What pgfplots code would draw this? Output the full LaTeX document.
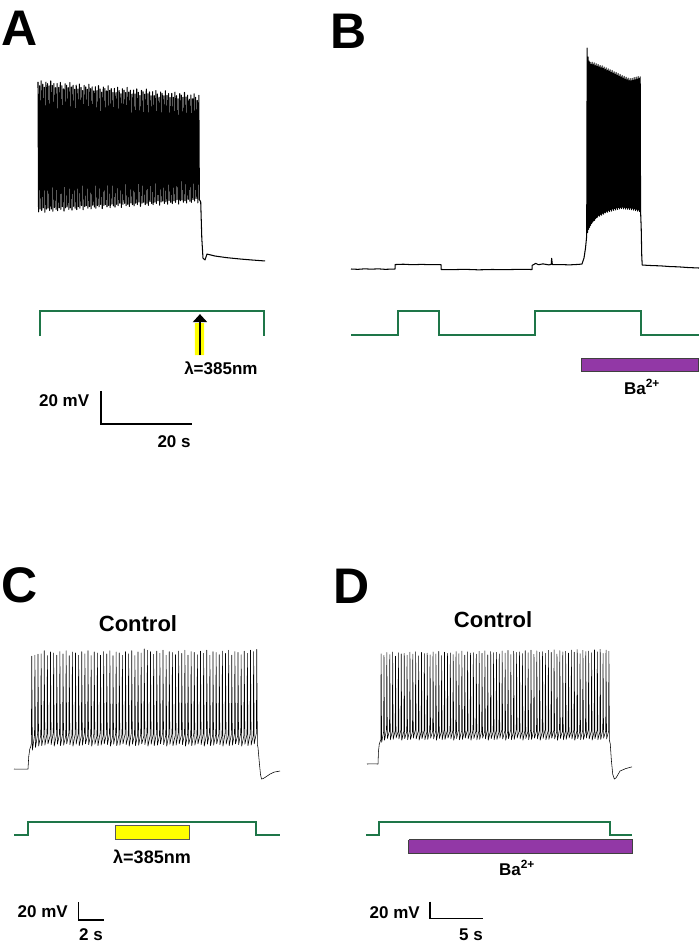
\documentclass[border=0pt]{standalone}
\usepackage{fontspec}
\setmainfont{Liberation Sans}
\usepackage{pgfplots}
\pgfplotsset{compat=1.18}
\usetikzlibrary{arrows.meta}
\definecolor{stimgreen}{RGB}{30,118,72}
\definecolor{bapurple}{RGB}{146,56,166}
\definecolor{yel}{RGB}{255,255,0}
\pgfplotsset{
  panel/.style={hide axis, clip=false, anchor=south west},
  trace/.style={black, mark=none, line width=0.6pt, line join=round},
  stim/.style={stimgreen, mark=none, line width=1.8pt},
  sbar/.style={black, mark=none, line width=1.5pt},
}
\newcommand{\lab}[1]{\fontsize{#1}{#1}\selectfont\bfseries}
\begin{document}
\begin{tikzpicture}
\path[use as bounding box] (0,0) rectangle (700pt,-948pt);
\node[font=\lab{50}] at (20pt,-28pt) {A};
\node[font=\lab{50}] at (349pt,-31pt) {B};
\node[font=\lab{50}] at (20pt,-585pt) {C};
\node[font=\lab{50}] at (352pt,-586pt) {D};

% ---------------- Panel A ----------------
\begin{axis}[panel, x=4.55pt, y=1.65pt, xmin=0, xmax=50, ymin=-200, ymax=50, at={(38pt,-472.5pt)}]
\addplot[trace, line width=1.05pt] coordinates {
(0,36.8) (0.12,-42.0) (0.35,34.4) (0.47,-40.3) (0.70,37.4) (0.82,-41.2) (1.05,35.4) (1.17,-39.6)
(1.40,33.5) (1.52,-42.3) (1.75,36.6) (1.87,-40.3) (2.10,35.7) (2.22,-39.7) (2.45,34.3) (2.57,-41.2)
(2.80,37.3) (2.92,-40.3) (3.15,34.6) (3.27,-41.7) (3.50,35.7) (3.62,-39.4) (3.85,33.3) (3.97,-40.5)
(4.20,35.8) (4.32,-41.3) (4.55,33.4) (4.67,-39.6) (4.90,36.4) (5.02,-40.5) (5.25,34.4) (5.37,-38.9)
(5.60,32.5) (5.72,-41.6) (5.95,35.6) (6.07,-39.6) (6.30,34.7) (6.42,-39.0) (6.65,33.3) (6.77,-40.5)
(7.00,36.3) (7.12,-39.6) (7.35,33.6) (7.47,-41.0) (7.70,34.7) (7.82,-38.7) (8.05,32.3) (8.17,-39.8)
(8.40,34.8) (8.52,-40.6) (8.75,32.4) (8.87,-38.9) (9.10,35.4) (9.22,-39.8) (9.45,33.4) (9.57,-38.2)
(9.80,31.5) (9.92,-40.8) (10.15,34.6) (10.27,-38.9) (10.50,33.7) (10.62,-38.3) (10.85,32.3) (10.97,-39.8)
(11.20,35.3) (11.32,-38.9) (11.55,32.6) (11.67,-40.2) (11.90,33.7) (12.02,-38.0) (12.25,31.3) (12.37,-39.1)
(12.60,33.8) (12.72,-39.9) (12.95,31.4) (13.07,-38.2) (13.30,34.5) (13.42,-39.0) (13.65,32.4) (13.77,-37.5)
(14.00,30.5) (14.12,-40.1) (14.35,33.6) (14.47,-38.2) (14.70,32.7) (14.82,-37.6) (15.05,31.3) (15.17,-39.0)
(15.40,34.4) (15.52,-38.2) (15.75,31.6) (15.87,-39.5) (16.10,32.7) (16.22,-37.3) (16.45,30.3) (16.57,-38.4)
(16.80,32.8) (16.92,-39.1) (17.15,30.4) (17.27,-37.5) (17.50,33.5) (17.62,-38.3) (17.85,31.4) (17.97,-36.8)
(18.20,29.5) (18.32,-39.4) (18.55,32.6) (18.67,-37.5) (18.90,31.7) (19.02,-36.9) (19.25,30.3) (19.37,-38.3)
(19.60,33.4) (19.72,-37.5) (19.95,30.6) (20.07,-38.8) (20.30,31.7) (20.42,-36.6) (20.65,29.3) (20.77,-37.7)
(21.00,31.8) (21.12,-38.4) (21.35,29.4) (21.47,-36.8) (21.70,32.5) (21.82,-37.6) (22.05,30.4) (22.17,-36.1)
(22.40,28.5) (22.52,-38.7) (22.75,31.6) (22.87,-36.7) (23.10,30.7) (23.22,-36.2) (23.45,29.3) (23.57,-37.6)
(23.80,32.4) (23.92,-36.8) (24.15,29.6) (24.27,-38.1) (24.50,30.7) (24.62,-35.8) (24.85,28.3) (24.97,-37.0)
(25.20,30.8) (25.32,-37.7) (25.55,28.4) (25.67,-36.1) (25.90,31.5) (26.02,-36.9) (26.25,29.4) (26.37,-35.3)
(26.60,27.5) (26.72,-38.0) (26.95,30.6) (27.07,-36.0) (27.30,29.7) (27.42,-35.5) (27.65,28.3) (27.77,-36.9)
(28.00,31.4) (28.12,-36.0) (28.35,28.6) (28.47,-37.4) (28.70,29.7) (28.82,-35.1) (29.05,27.3) (29.17,-36.3)
(29.40,29.8) (29.52,-37.0) (29.75,27.4) (29.87,-35.3) (30.10,30.5) (30.22,-36.2) (30.45,28.4) (30.57,-34.6)
(30.80,26.5) (30.92,-37.3) (31.15,29.6) (31.27,-35.3) (31.50,28.7) (31.62,-34.8) (31.85,27.4) (31.97,-36.2)
(32.20,30.4) (32.32,-35.3) (32.55,27.6) (32.67,-36.7) (32.90,28.7) (33.02,-34.4) (33.25,26.3) (33.37,-35.6)
(33.60,28.8) (33.72,-36.3) (33.95,26.5) (34.07,-34.6) (34.30,29.5) (34.42,-35.5) (34.65,27.4) (34.77,-33.9)
(35.00,25.5) (35.12,-36.6) (35.35,28.6) (35.47,-34.6)
(35.76,-36) (36.0,-58) (36.26,-70) (36.7,-71.2) (37.14,-67.6) (38.9,-68.8) (41.5,-69.8) (44.4,-70.6) (47,-71.2) (49.9,-71.8)
};
\addplot[stim] coordinates {(0.44,-117.3) (0.44,-102.1) (49.67,-102.1) (49.67,-117.3)};
\addplot[fill=yel, draw=none, mark=none] coordinates {(34.5,-109.4) (36.5,-109.4) (36.5,-128.8) (34.5,-128.8) (34.5,-109.4)};
\addplot[black, mark=none, line width=2.2pt, -{Triangle[width=14pt,length=8pt]}] coordinates {(35.6,-128.8) (35.6,-104.0)};
\node[font=\lab{17}] at (axis cs:40.2,-136.7) {λ=385nm};
\addplot[sbar] coordinates {(13.85,-150.6) (13.85,-170.6) (33.85,-170.6)};
\node[font=\lab{17}, anchor=east, inner sep=0pt] at (axis cs:11.3,-156.7) {20 mV};
\node[font=\lab{17}] at (axis cs:29.9,-181.5) {20 s};
\end{axis}

% ---------------- Panel B ----------------
\begin{axis}[panel, x=4.55pt, y=1.65pt, xmin=0, xmax=77, ymin=-200, ymax=70, at={(351pt,-483.5pt)}]
\addplot[trace, line width=1.05pt] coordinates {
(0,-70) (1.5,-70.2) (3,-69.9) (4.5,-70.1) (6,-69.9) (7.5,-70.2) (9.67,-70.0) (9.70,-67.3) (11.5,-67.1)
(13.5,-67.4) (15.5,-67.2) (17.5,-67.4) (19.78,-67.3) (19.81,-70.3) (22,-70.4) (25,-70.2) (28,-70.5)
(31,-70.3) (34,-70.4) (37,-70.2) (39.78,-70.3) (39.81,-67.8) (40.6,-66.6) (41.2,-67.4) (42.2,-66.9)
(43.5,-67.5) (44.0,-67.2) (44.1,-63.5) (44.25,-67.3) (46,-67.3) (48,-67.5) (50.0,-67.2) (50.77,-67.0)
(51.21,-63.3) (51.54,-57.3) (51.80,-50)
(51.90,63.9) (51.98,-48.0) (52.12,58.5) (52.20,-46.0) (52.34,56.0) (52.42,-44.8) (52.56,55.2) (52.64,-43.5)
(52.78,54.0) (52.86,-42.4) (53.00,55.3) (53.08,-41.6) (53.22,53.8) (53.30,-40.8) (53.44,54.9) (53.52,-40.5)
(53.66,53.2) (53.74,-39.4) (53.88,54.4) (53.96,-38.9) (54.10,52.8) (54.18,-38.6) (54.32,53.9) (54.40,-37.5)
(54.54,52.4) (54.62,-38.0) (54.76,53.3) (54.84,-36.9) (54.98,51.9) (55.06,-37.4) (55.20,53.1) (55.28,-36.2)
(55.42,51.5) (55.50,-36.8) (55.64,52.4) (55.72,-35.7) (55.86,50.8) (55.94,-36.0) (56.08,51.9) (56.16,-35.0)
(56.30,50.2) (56.38,-35.6) (56.52,51.3) (56.60,-34.4) (56.74,49.8) (56.82,-35.2) (56.96,50.7) (57.04,-34.0)
(57.18,49.1) (57.26,-34.9) (57.40,50.3) (57.48,-33.6) (57.62,48.6) (57.70,-34.5) (57.84,49.5) (57.92,-33.3)
(58.06,48.0) (58.14,-34.2) (58.28,49.1) (58.36,-33.0) (58.50,47.4) (58.58,-33.9) (58.72,48.5) (58.80,-32.7)
(58.94,46.8) (59.02,-33.6) (59.16,47.9) (59.24,-32.6) (59.38,46.3) (59.46,-33.4) (59.60,47.2) (59.68,-32.5)
(59.82,45.6) (59.90,-33.5) (60.04,46.7) (60.12,-32.6) (60.26,45.0) (60.34,-33.7) (60.48,46.2) (60.56,-32.8)
(60.70,44.6) (60.78,-33.8) (60.92,45.7) (61.00,-32.9) (61.14,44.1) (61.22,-33.9) (61.36,45.4) (61.44,-33.0)
(61.58,44.0) (61.66,-34.1) (61.80,45.5) (61.88,-33.2) (62.02,44.3) (62.10,-34.3) (62.24,46.0) (62.32,-33.5)
(62.46,44.6) (62.54,-34.6) (62.68,46.3) (62.76,-33.8) (62.90,45.0) (62.98,-34.9) (63.12,46.6) (63.20,-34.2)
(63.34,45.4) (63.42,-35.2) (63.56,46.4) (63.64,-34.8)
(63.78,-45) (63.9,-62) (64.0,-67.6) (66,-67.9) (68,-68.1) (70,-68.5) (72,-68.7) (74,-69.1) (76.48,-69.4)
};
\addplot[stim] coordinates {(0,-110) (10.33,-110) (10.33,-95.45) (19.34,-95.45) (19.34,-110) (40.44,-110) (40.44,-95.45) (63.74,-95.45) (63.74,-110) (76.48,-110)};
\addplot[fill=bapurple, draw=black!75, line width=1pt, mark=none] coordinates {(50.55,-124.5) (76.48,-124.5) (76.48,-132.4) (50.55,-132.4) (50.55,-124.5)};
\node[font=\lab{17}] at (axis cs:63.96,-141.5) {Ba\textsuperscript{2+}};
\end{axis}

% ---------------- Panel C ----------------
\begin{axis}[panel, x=12.5pt, y=0.9pt, xmin=0, xmax=21.5, ymin=-260, ymax=100, at={(14pt,-940pt)}]
\addplot[trace, line width=0.55pt] coordinates {
(0,-70) (0.5,-70.2) (1.12,-70) (1.18,-56) (1.26,-48) (1.34,-45)
(1.39,-42) (1.42,55.5) (1.47,-49) (1.64,-33) (1.67,56.5) (1.72,-46) (1.89,-31) (1.92,57.5) (1.97,-44.5)
(2.14,-32.5) (2.17,58) (2.22,-44) (2.39,-31.5) (2.42,61.5) (2.47,-43.5) (2.64,-31) (2.67,56) (2.72,-42)
(2.89,-33) (2.92,60) (2.97,-43) (3.14,-30) (3.17,59) (3.22,-44.5) (3.39,-32.5) (3.42,56.5) (3.47,-42.5)
(3.64,-31.5) (3.67,60.5) (3.72,-44) (3.89,-31) (3.92,58) (3.97,-43.5) (4.14,-33) (4.17,61.5) (4.22,-42)
(4.39,-30) (4.42,56) (4.47,-43) (4.64,-32.5) (4.67,60) (4.72,-44.5) (4.89,-31.5) (4.92,59) (4.97,-42.5)
(5.14,-31) (5.17,56.5) (5.22,-44) (5.39,-33) (5.42,60.5) (5.47,-43.5) (5.64,-30) (5.67,58) (5.72,-42)
(5.89,-32.5) (5.92,61.5) (5.97,-43) (6.14,-31.5) (6.17,56) (6.22,-44.5) (6.39,-31) (6.42,60) (6.47,-42.5)
(6.64,-33) (6.67,59) (6.72,-44) (6.89,-30) (6.92,56.5) (6.97,-43.5) (7.14,-32.5) (7.17,60.5) (7.22,-42)
(7.39,-31.5) (7.42,58) (7.47,-43) (7.64,-31) (7.67,61.5) (7.72,-44.5) (7.89,-33) (7.92,56) (7.97,-42.5)
(8.14,-30) (8.17,60) (8.22,-44) (8.39,-32.5) (8.42,59) (8.47,-43.5) (8.64,-31.5) (8.67,56.5) (8.72,-42)
(8.89,-31) (8.92,60.5) (8.97,-43) (9.14,-33) (9.17,58) (9.22,-44.5) (9.39,-30) (9.42,61.5) (9.47,-42.5)
(9.64,-32.5) (9.67,56) (9.72,-44) (9.89,-31.5) (9.92,60) (9.97,-43.5) (10.14,-31) (10.17,59) (10.22,-42)
(10.39,-33) (10.42,63.5) (10.47,-43) (10.64,-30) (10.67,62) (10.72,-44.5) (10.89,-32.5) (10.92,60.5) (10.97,-42.5)
(11.14,-31.5) (11.17,57.5) (11.22,-44) (11.39,-31) (11.42,61) (11.47,-43.5) (11.64,-33) (11.67,58.5) (11.72,-42)
(11.89,-30) (11.92,62) (11.97,-43) (12.14,-32.5) (12.17,56.5) (12.22,-44.5) (12.39,-31.5) (12.42,60.5) (12.47,-42.5)
(12.64,-31) (12.67,59.5) (12.72,-44) (12.89,-33) (12.92,57) (12.97,-43.5) (13.14,-30) (13.17,61) (13.22,-42)
(13.39,-32.5) (13.42,58.5) (13.47,-43) (13.64,-31.5) (13.67,62) (13.72,-44.5) (13.89,-31) (13.92,56.5) (13.97,-42.5)
(14.14,-33) (14.17,60.5) (14.22,-44) (14.39,-30) (14.42,59.5) (14.47,-43.5) (14.64,-32.5) (14.67,57) (14.72,-42)
(14.89,-31.5) (14.92,61) (14.97,-43) (15.14,-31) (15.17,58.5) (15.22,-44.5) (15.39,-33) (15.42,62) (15.47,-42.5)
(15.64,-30) (15.67,56.5) (15.72,-44) (15.89,-32.5) (15.92,60.5) (15.97,-43.5) (16.14,-31.5) (16.17,59.5) (16.22,-42)
(16.39,-31) (16.42,57) (16.47,-43) (16.64,-33) (16.67,61) (16.72,-44.5) (16.89,-30) (16.92,58.5) (16.97,-42.5)
(17.14,-32.5) (17.17,62) (17.22,-44) (17.39,-31.5) (17.42,56.5) (17.47,-43.5) (17.64,-31) (17.67,60.5) (17.72,-42)
(17.89,-33) (17.92,59.5) (17.97,-43) (18.14,-30) (18.17,57) (18.22,-44.5) (18.39,-32.5) (18.42,61) (18.47,-42.5)
(18.64,-31.5) (18.67,58.5) (18.72,-44) (18.89,-31) (18.92,62) (18.97,-43.5) (19.14,-33) (19.17,60.5) (19.22,-42)
(19.39,-30) (19.42,63) (19.47,-43)
(19.52,-46) (19.62,-62) (19.72,-76) (19.8,-81.1) (19.95,-80.5) (20.2,-78.3) (20.48,-75.6) (20.8,-73.5) (21.28,-72.2)
};
\node[font=\lab{22}] at (axis cs:9.92,91.1) {Control};
\addplot[stim] coordinates {(0,-143.3) (1.12,-143.3) (1.12,-128.9) (19.36,-128.9) (19.36,-143.3) (21.28,-143.3)};
\addplot[fill=yel, draw=black!65, line width=1pt, mark=none] coordinates {(8.08,-133.3) (14.0,-133.3) (14.0,-147.8) (8.08,-147.8) (8.08,-133.3)};
\node[font=\lab{18}] at (axis cs:11.04,-167.8) {λ=385nm};
\addplot[sbar] coordinates {(5.16,-217.8) (5.16,-237.8) (7.16,-237.8)};
\node[font=\lab{17}, anchor=east, inner sep=0pt] at (axis cs:4.32,-228.9) {20 mV};
\node[font=\lab{17}] at (axis cs:6.16,-254.4) {2 s};
\end{axis}

% ---------------- Panel D ----------------
\begin{axis}[panel, x=10.6pt, y=0.835pt, xmin=0, xmax=25.5, ymin=-280, ymax=110, at={(367pt,-939.35pt)}]
\addplot[trace, line width=0.55pt] coordinates {
(0,-70) (0.5,-69.8) (1.04,-70) (1.08,-55) (1.16,-46) (1.24,-43)
(1.30,-41) (1.33,62) (1.38,-44) (1.57,-31.5) (1.60,60) (1.65,-41.5) (1.84,-29) (1.87,63.6) (1.92,-39.5)
(2.12,-30.5) (2.15,61.1) (2.20,-41) (2.39,-31) (2.42,64.2) (2.47,-40.5) (2.66,-30) (2.69,59.2) (2.74,-39)
(2.93,-31.5) (2.96,63.3) (3.01,-40) (3.20,-29) (3.23,61.8) (3.28,-41.5) (3.48,-30.5) (3.51,62.4) (3.56,-39.5)
(3.75,-31) (3.78,60.4) (3.83,-41) (4.02,-30) (4.05,64) (4.10,-40.5) (4.29,-31.5) (4.32,61.5) (4.37,-39)
(4.56,-29) (4.59,64.5) (4.64,-40) (4.84,-30.5) (4.87,59.6) (4.92,-41.5) (5.11,-31) (5.14,63.6) (5.19,-39.5)
(5.38,-30) (5.41,62.2) (5.46,-41) (5.65,-31.5) (5.68,62.7) (5.73,-40.5) (5.92,-29) (5.95,60.8) (6.00,-39)
(6.20,-30.5) (6.23,64.3) (6.28,-40) (6.47,-31) (6.50,61.9) (6.55,-41.5) (6.74,-30) (6.77,64.9) (6.82,-39.5)
(7.01,-31.5) (7.04,59.9) (7.09,-41) (7.28,-29) (7.31,64) (7.36,-40.5) (7.56,-30.5) (7.59,62.5) (7.64,-39)
(7.83,-31) (7.86,63.1) (7.91,-40) (8.10,-30) (8.13,61.1) (8.18,-41.5) (8.37,-31.5) (8.40,64.7) (8.45,-39.5)
(8.64,-29) (8.67,62.2) (8.72,-41) (8.92,-30.5) (8.95,65.3) (9.00,-40.5) (9.19,-31) (9.22,60.3) (9.27,-39)
(9.46,-30) (9.49,64.4) (9.54,-40) (9.73,-31.5) (9.76,62.9) (9.81,-41.5) (10.00,-29) (10.03,63.4) (10.08,-39.5)
(10.28,-30.5) (10.31,61.5) (10.36,-41) (10.55,-31) (10.58,65) (10.63,-40.5) (10.82,-30) (10.85,62.6) (10.90,-39)
(11.09,-31.5) (11.12,65.6) (11.17,-40) (11.36,-29) (11.39,60.7) (11.44,-41.5) (11.64,-30.5) (11.67,64.7) (11.72,-39.5)
(11.91,-31) (11.94,63.3) (11.99,-41) (12.18,-30) (12.21,63.8) (12.26,-40.5) (12.45,-31.5) (12.48,61.8) (12.53,-39)
(12.72,-29) (12.75,65.4) (12.80,-40) (13.00,-30.5) (13.03,62.9) (13.08,-41.5) (13.27,-31) (13.30,66) (13.35,-39.5)
(13.54,-30) (13.57,61) (13.62,-41) (13.81,-31.5) (13.84,65.1) (13.89,-40.5) (14.08,-29) (14.11,63.6) (14.16,-39)
(14.36,-30.5) (14.39,64.2) (14.44,-40) (14.63,-31) (14.66,62.2) (14.71,-41.5) (14.90,-30) (14.93,65.8) (14.98,-39.5)
(15.17,-31.5) (15.20,63.3) (15.25,-41) (15.44,-29) (15.47,66.3) (15.52,-40.5) (15.72,-30.5) (15.75,61.4) (15.80,-39)
(15.99,-31) (16.02,65.4) (16.07,-40) (16.26,-30) (16.29,64) (16.34,-41.5) (16.53,-31.5) (16.56,64.5) (16.61,-39.5)
(16.80,-29) (16.83,62.6) (16.88,-41) (17.08,-30.5) (17.11,66.1) (17.16,-40.5) (17.35,-31) (17.38,63.7) (17.43,-39)
(17.62,-30) (17.65,66.7) (17.70,-40) (17.89,-31.5) (17.92,61.7) (17.97,-41.5) (18.16,-29) (18.19,65.8) (18.24,-39.5)
(18.44,-30.5) (18.47,64.3) (18.52,-41) (18.71,-31) (18.74,64.9) (18.79,-40.5) (18.98,-30) (19.01,62.9) (19.06,-39)
(19.25,-31.5) (19.28,66.5) (19.33,-40) (19.52,-29) (19.55,64) (19.60,-41.5) (19.80,-30.5) (19.83,67.1) (19.88,-39.5)
(20.07,-31) (20.10,62.1) (20.15,-41) (20.34,-30) (20.37,66.2) (20.42,-40.5) (20.61,-31.5) (20.64,64.7) (20.69,-39)
(20.88,-29) (20.91,65.2) (20.96,-40) (21.16,-30.5) (21.19,63.3) (21.24,-41.5) (21.43,-31) (21.46,66.8) (21.51,-39.5)
(21.70,-30) (21.73,64.4) (21.78,-41) (21.97,-31.5) (22.00,67.4) (22.05,-40.5) (22.24,-29) (22.27,62.5) (22.32,-39)
(22.52,-30.5) (22.55,66.5) (22.60,-40) (22.79,-31) (22.82,65.1) (22.87,-41.5)
(22.95,-46) (23.05,-65) (23.18,-82) (23.33,-88) (23.5,-86.5) (23.87,-78.4) (24.4,-75.5) (25.0,-73.4)
};
\node[font=\lab{22}] at (axis cs:11.89,102.5) {Control};
\addplot[stim] coordinates {(-0.09,-155) (1.13,-155) (1.13,-139.5) (22.92,-139.5) (22.92,-155) (25.0,-155)};
\addplot[fill=bapurple, draw=black!75, line width=1pt, mark=none] coordinates {(3.96,-161) (25.0,-161) (25.0,-176.6) (3.96,-176.6) (3.96,-161)};
\node[font=\lab{17}] at (axis cs:14.15,-194.6) {Ba\textsuperscript{2+}};
\addplot[sbar] coordinates {(5.94,-234.8) (5.94,-254.8) (10.94,-254.8)};
\node[font=\lab{17}, anchor=east, inner sep=0pt] at (axis cs:5.0,-248.4) {20 mV};
\node[font=\lab{17}] at (axis cs:9.81,-274.8) {5 s};
\end{axis}
\end{tikzpicture}
\end{document}
